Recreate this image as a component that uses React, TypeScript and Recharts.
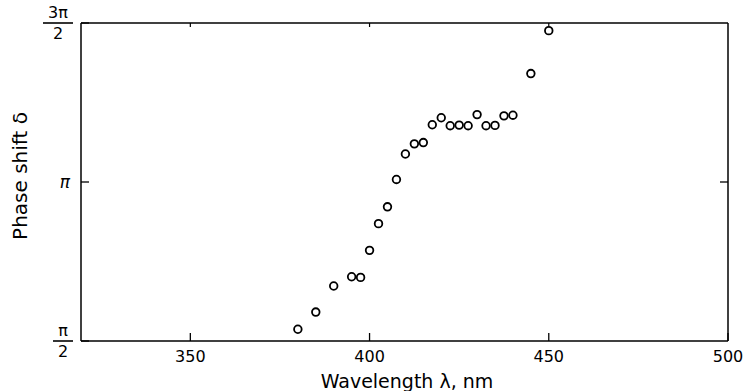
import * as React from "react"
import { ScatterChart, Scatter, XAxis, YAxis, Label } from "recharts"

// wavelength (nm) and phase shift (units of pi)
const wavelengths = [
  380, 385, 390, 395, 397.5, 400, 402.5, 405, 407.5, 410, 412.5, 415, 417.5, 420, 422.5, 425, 427.5, 430,
  432.5, 435, 437.5, 440, 445, 450,
]
const phaseShift = [
  0.537, 0.591, 0.673, 0.702, 0.7, 0.785, 0.869, 0.922, 1.008, 1.088, 1.12, 1.124, 1.18, 1.202, 1.177,
  1.179, 1.177, 1.212, 1.177, 1.178, 1.208, 1.21, 1.341, 1.476,
]
const xTicks = [350, 400, 450, 500]
const yTicks = [0.5, 1, 1.5]

const data = wavelengths.map((w, i) => ({ w, d: phaseShift[i] }))

const FONT = "DejaVu Sans"

// pi fraction labels on the left axis
const PiTick = (props: any) => {
  const { x, y, payload } = props
  const v = payload.value
  const right = x - 1
  if (v === 1) {
    return (
      <text x={right - 2} y={y + 6} textAnchor="end" fontFamily={FONT} fontStyle="italic" fontSize={17} fill="#000">
        π
      </text>
    )
  }
  const num = v === 0.5 ? "π" : "3π"
  const w = v === 0.5 ? 18 : 28
  const cx = right - w / 2
  return (
    <g>
      <text x={cx} y={y - 5} textAnchor="middle" fontFamily={FONT} fontSize={16} fill="#000">
        {num}
      </text>
      <line x1={right - w - 1} x2={right + 1} y1={y} y2={y} stroke="#000" strokeWidth={1.6} />
      <text x={cx} y={y + 16} textAnchor="middle" fontFamily={FONT} fontSize={16} fill="#000">
        2
      </text>
    </g>
  )
}

const Dot = (props: any) => (
  <circle cx={props.cx} cy={props.cy} r={3.8} fill="#fff" stroke="#000" strokeWidth={1.8} />
)

export default function App() {
  return (
    <div style={{ position: "absolute", left: 0, top: 0, background: "#fff" }}>
      <ScatterChart width={744} height={391} margin={{ top: 0, right: 0, bottom: 0, left: 0 }}>
        <XAxis
          xAxisId="b"
          type="number"
          dataKey="w"
          domain={[319.5, 500]}
          ticks={xTicks}
          allowDataOverflow
          orientation="bottom"
          height={50}
          axisLine={{ stroke: "#000", strokeWidth: 1.5 }}
          tickLine={{ stroke: "#000", strokeWidth: 1.3 }}
          tickSize={-8}
          tickMargin={18}
          tick={{ fill: "#000", fontFamily: FONT, fontSize: 16 }}
        >
          <Label
            content={() => (
              <text x={407} y={388} textAnchor="middle" fontFamily={FONT} fontSize={19} fill="#000">
                Wavelength λ, nm
              </text>
            )}
          />
        </XAxis>
        <XAxis
          xAxisId="t"
          type="number"
          dataKey="w"
          domain={[319.5, 500]}
          ticks={[350, 400, 450]}
          allowDataOverflow
          orientation="top"
          height={23}
          axisLine={{ stroke: "#000", strokeWidth: 1.5 }}
          tickLine={{ stroke: "#000", strokeWidth: 1.2 }}
          tickSize={-4}
          tickFormatter={() => ""}
        />
        <YAxis
          yAxisId="l"
          type="number"
          dataKey="d"
          domain={[0.5, 1.5]}
          ticks={yTicks}
          allowDataOverflow
          orientation="left"
          width={81}
          axisLine={{ stroke: "#000", strokeWidth: 1.5 }}
          tickLine={{ stroke: "#000", strokeWidth: 1.3 }}
          tickSize={-8}
          tickMargin={16}
          tick={<PiTick />}
        >
          <Label
            content={() => (
              <text
                x={27}
                y={176}
                transform="rotate(-90 27 176)"
                textAnchor="middle"
                fontFamily={FONT}
                fontSize={20}
                fill="#000"
              >
                Phase shift δ
              </text>
            )}
          />
        </YAxis>
        <YAxis
          yAxisId="r"
          type="number"
          dataKey="d"
          domain={[0.5, 1.5]}
          ticks={[1]}
          allowDataOverflow
          orientation="right"
          width={16}
          axisLine={{ stroke: "#000", strokeWidth: 1.5 }}
          tickLine={{ stroke: "#000", strokeWidth: 1.3 }}
          tickSize={-8}
          tickFormatter={() => ""}
        />
        <Scatter data={data} xAxisId="b" yAxisId="l" shape={<Dot />} isAnimationActive={false} />
      </ScatterChart>
    </div>
  )
}
